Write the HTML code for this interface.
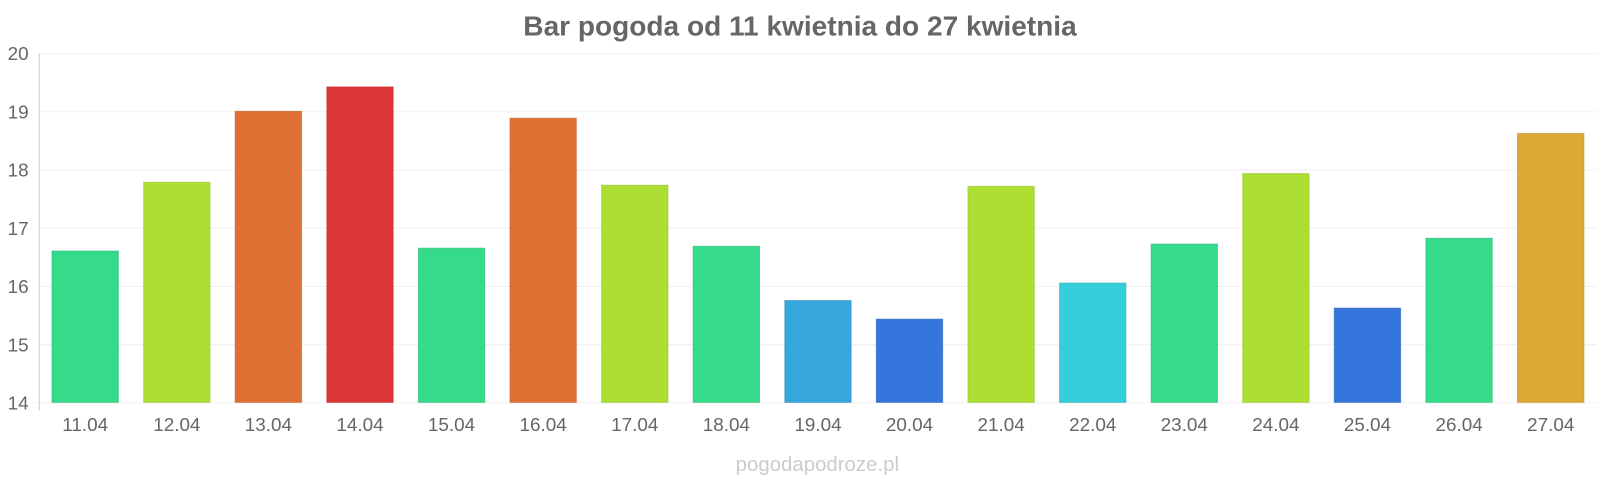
<!DOCTYPE html>
<html><head><meta charset="utf-8"><style>body{margin:0;background:#fff}svg{display:block}svg text{font-family:"Liberation Sans",sans-serif}</style></head><body>
<svg width="1600" height="480" viewBox="0 0 1568 470" preserveAspectRatio="none" xmlns="http://www.w3.org/2000/svg">
<text x="784" y="35" text-anchor="middle" font-size="27.5" font-weight="bold" fill="#666">Bar pogoda od 11 kwietnia do 27 kwietnia</text>
<g stroke="#f0f0f0" stroke-width="1">
<line x1="39" x2="1565" y1="52.5" y2="52.5"/><line x1="39" x2="1565" y1="109.5" y2="109.5"/><line x1="39" x2="1565" y1="166.5" y2="166.5"/><line x1="39" x2="1565" y1="223.5" y2="223.5"/><line x1="39" x2="1565" y1="280.5" y2="280.5"/><line x1="39" x2="1565" y1="337.5" y2="337.5"/><line x1="33" x2="1565" y1="394.5" y2="394.5"/>
</g>
<line x1="38.5" x2="38.5" y1="52" y2="402" stroke="#ccc"/>
<g font-size="18.5" fill="#666" text-anchor="end">
<text x="28" y="59">20</text><text x="28" y="116">19</text><text x="28" y="173">18</text><text x="28" y="230">17</text><text x="28" y="287">16</text><text x="28" y="344">15</text><text x="28" y="401">14</text>
</g>
<g stroke-width="1" stroke-opacity="0.6">
<rect x="51" y="245.8" width="65" height="148.2" fill="#35db8b" stroke="#2cb874"/>
<rect x="140.8" y="178.5" width="65" height="215.5" fill="#addf33" stroke="#94c02a"/>
<rect x="230.5" y="109" width="65" height="285" fill="#de7033" stroke="#c05e28"/>
<rect x="320.3" y="85.1" width="65" height="308.9" fill="#dd3636" stroke="#c02a2a"/>
<rect x="410" y="243" width="65" height="151" fill="#35db8b" stroke="#2cb874"/>
<rect x="499.8" y="115.8" width="65" height="278.2" fill="#de7033" stroke="#c05e28"/>
<rect x="589.6" y="181.4" width="65" height="212.6" fill="#addf33" stroke="#94c02a"/>
<rect x="679.3" y="241.2" width="65" height="152.8" fill="#35db8b" stroke="#2cb874"/>
<rect x="769.1" y="294.3" width="65" height="99.7" fill="#35a7dc" stroke="#2b8dbb"/>
<rect x="858.8" y="312.5" width="65" height="81.5" fill="#3476db" stroke="#2b62b8"/>
<rect x="948.6" y="182.5" width="65" height="211.5" fill="#addf33" stroke="#94c02a"/>
<rect x="1038.4" y="277.2" width="65" height="116.8" fill="#35cfdb" stroke="#2cafb8"/>
<rect x="1128.1" y="239" width="65" height="155" fill="#35db8b" stroke="#2cb874"/>
<rect x="1217.9" y="170" width="65" height="224" fill="#addf33" stroke="#94c02a"/>
<rect x="1307.6" y="301.7" width="65" height="92.3" fill="#3476db" stroke="#2b62b8"/>
<rect x="1397.4" y="233.3" width="65" height="160.7" fill="#35db8b" stroke="#2cb874"/>
<rect x="1487.2" y="130.7" width="65" height="263.3" fill="#dda833" stroke="#bf8f2a"/>
</g>
<g font-size="18.5" fill="#666" text-anchor="middle">
<text x="83.5" y="422">11.04</text><text x="173.3" y="422">12.04</text><text x="263" y="422">13.04</text><text x="352.8" y="422">14.04</text><text x="442.5" y="422">15.04</text><text x="532.3" y="422">16.04</text><text x="622.1" y="422">17.04</text><text x="711.8" y="422">18.04</text><text x="801.6" y="422">19.04</text><text x="891.3" y="422">20.04</text><text x="981.1" y="422">21.04</text><text x="1070.9" y="422">22.04</text><text x="1160.6" y="422">23.04</text><text x="1250.4" y="422">24.04</text><text x="1340.1" y="422">25.04</text><text x="1429.9" y="422">26.04</text><text x="1519.7" y="422">27.04</text>
</g>
<text x="801" y="461" text-anchor="middle" font-size="20" fill="#ccc">pogodapodroze.pl</text>
</svg>
</body></html>
